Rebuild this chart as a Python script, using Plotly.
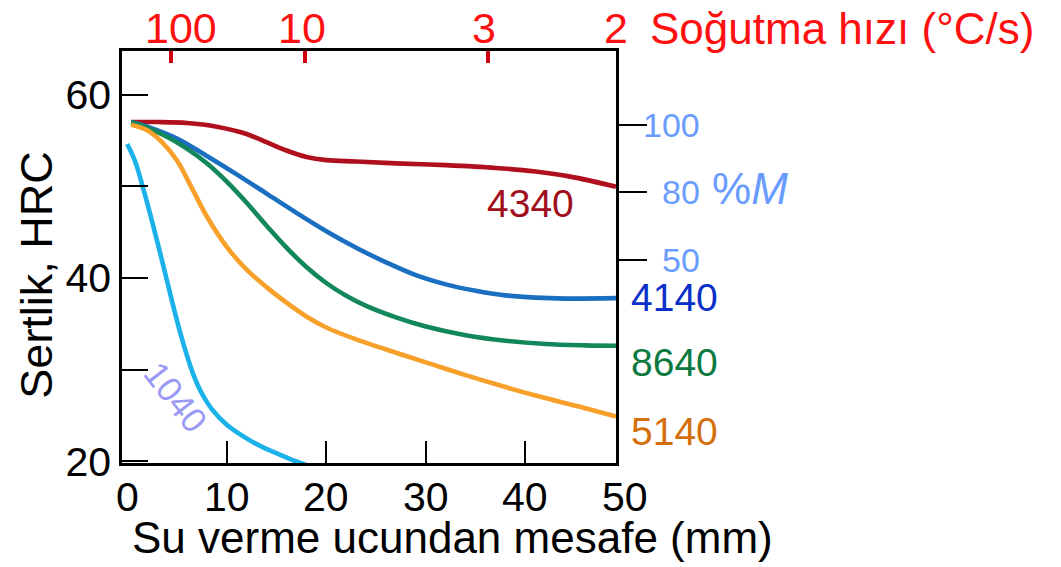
import plotly.graph_objects as go

# Jominy end-quench hardness curves (distance from quenched end, mm -> HRC)
dist_4340 = [0.4, 3, 6, 9, 12, 14, 16, 18, 20, 23, 27, 32, 37, 41, 44.5, 49.1]
hrc_4340 = [57.0, 57.0, 56.9, 56.5, 55.7, 54.8, 53.9, 53.2, 52.85, 52.7, 52.5, 52.3, 52.0, 51.6, 51.05, 49.95]

dist_4140 = [0.4, 2, 5, 8, 11, 14, 17, 20, 23, 26, 29, 32, 35, 38, 41, 44, 49.1]
hrc_4140 = [57.0, 56.5, 55.2, 53.3, 51.3, 49.2, 47.1, 45.1, 43.3, 41.7, 40.3, 39.3, 38.6, 38.1, 37.85, 37.75, 37.8]

dist_8640 = [0.4, 2, 4, 6, 8, 10, 12, 14, 16, 18, 20, 22, 24, 27, 30, 34, 38, 42, 46, 49.1]
hrc_8640 = [57.0, 56.4, 55.4, 54.1, 52.5, 50.5, 48.2, 45.7, 43.3, 41.2, 39.45, 38.05, 36.95, 35.7, 34.7, 33.75, 33.15, 32.8, 32.65, 32.6]

dist_5140 = [0.4, 2, 3.5, 5, 6.5, 8, 10, 12, 14, 16, 18, 20, 23, 26, 30, 34, 38, 42, 46, 49.1]
hrc_5140 = [56.7, 56.1, 54.8, 52.8, 49.8, 46.7, 43.4, 40.9, 39.0, 37.3, 35.8, 34.6, 33.3, 32.2, 30.8, 29.4, 28.1, 26.9, 25.8, 24.9]

dist_1040 = [0, 0.8, 1.6, 2.4, 3.2, 4.0, 4.8, 5.6, 6.6, 7.5, 8.5, 10, 11.7, 13.5, 15, 16.5, 18]
hrc_1040 = [54.6, 52.7, 49.8, 46.6, 43.2, 39.7, 36.2, 33.0, 29.6, 27.4, 25.7, 24.0, 22.7, 21.6, 20.9, 20.2, 19.6]

# bottom axis (mm) and left axis (HRC)
dist_ticks = [0, 10, 20, 30, 40, 50]
hrc_ticks = [20, 30, 40, 50, 60]
hrc_tick_text = ["20", "", "40", "", "60"]

# top axis: cooling rate (°C/s) at the matching distance
cooling_rates = ["100", "10", "3", "2"]
cooling_rate_mm = [4.4, 17.9, 36.2, 49.1]

# right axis: % martensite at the matching hardness
martensite_pct = ["100", "80", "50"]
martensite_hrc = [56.65, 49.4, 42.0]

series = [
    ("4340", dist_4340, hrc_4340, "#b0101e"),
    ("4140", dist_4140, hrc_4140, "#1a6fc0"),
    ("8640", dist_8640, hrc_8640, "#12885a"),
    ("5140", dist_5140, hrc_5140, "#f7a12b"),
    ("1040", dist_1040, hrc_1040, "#1ab2e8"),
]

FONT = "Liberation Sans, Arial, sans-serif"
X_RANGE = [-0.52, 49.1]
Y_RANGE = [19.82, 64.75]
TOP_LABEL_XSHIFT = [10, -3, -4, 0]


def x_paper(v):
    """Position of a distance value along the plot width (0..1)."""
    return (v - X_RANGE[0]) / (X_RANGE[1] - X_RANGE[0])


fig = go.Figure()
for name, xs, ys, col in series:
    fig.add_trace(go.Scatter(
        x=xs, y=ys, mode="lines", name=name,
        line=dict(color=col, width=4.6, shape="spline", smoothing=1.0),
        showlegend=False, hoverinfo="skip",
    ))

# invisible traces that carry the top and right axes
fig.add_trace(go.Scatter(x=[None], y=[None], xaxis="x2", yaxis="y", showlegend=False))
fig.add_trace(go.Scatter(x=[None], y=[None], xaxis="x", yaxis="y2", showlegend=False))

annotations = []

# bottom tick labels
for v in dist_ticks:
    annotations.append(dict(
        x=x_paper(v), y=-0.083, xref="paper", yref="paper", text=str(v),
        showarrow=False, xanchor="center", yanchor="middle",
        font=dict(family=FONT, size=41, color="black"),
    ))

# axis titles
annotations.append(dict(
    x=0.67, y=-0.182, xref="paper", yref="paper",
    text="Su verme ucundan mesafe (mm)", showarrow=False,
    xanchor="center", yanchor="middle",
    font=dict(family=FONT, size=44, color="black"),
))
annotations.append(dict(
    x=-0.173, y=0.456, xref="paper", yref="paper", text="Sertlik, HRC",
    showarrow=False, textangle=-90, xanchor="center", yanchor="middle",
    font=dict(family=FONT, size=45, color="black"),
))

# top cooling-rate labels
for lab, xv, dx in zip(cooling_rates, cooling_rate_mm, TOP_LABEL_XSHIFT):
    annotations.append(dict(
        x=x_paper(xv), y=1.0, xref="paper", yref="paper", text=lab,
        showarrow=False, xanchor="center", yanchor="middle",
        xshift=dx, yshift=23,
        font=dict(family=FONT, size=43, color="#ff1010"),
    ))
annotations.append(dict(
    x=1.064, y=1.0, xref="paper", yref="paper", text="Soğutma hızı (°C/s)",
    showarrow=False, xanchor="left", yanchor="middle", yshift=23,
    font=dict(family=FONT, size=44, color="#ff1010"),
))

# right martensite labels
for lab, yv in zip(martensite_pct, martensite_hrc):
    annotations.append(dict(
        x=1.174, y=yv, xref="paper", yref="y", text=lab, showarrow=False,
        xanchor="right", yanchor="middle",
        font=dict(family=FONT, size=34, color="#6a9cff"),
    ))
annotations.append(dict(
    x=1.19, y=49.8, xref="paper", yref="y", text="%<i>M</i>", showarrow=False,
    xanchor="left", yanchor="middle",
    font=dict(family=FONT, size=44, color="#6a9cff"),
))

# steel grade labels at the curve ends
end_labels = [
    ("4140", 37.9, "#0a30c8"),
    ("8640", 30.8, "#0c7a40"),
    ("5140", 23.3, "#d4700c"),
]
for text, yv, col in end_labels:
    annotations.append(dict(
        x=1.027, y=yv, xref="paper", yref="y", text=text, showarrow=False,
        xanchor="left", yanchor="middle",
        font=dict(family=FONT, size=39, color=col),
    ))
annotations.append(dict(
    x=40.5, y=48.15, xref="x", yref="y", text="4340", showarrow=False,
    xanchor="center", yanchor="middle",
    font=dict(family=FONT, size=39, color="#a0101c"),
))
annotations.append(dict(
    x=4.95, y=27.0, xref="x", yref="y", text="1040", showarrow=False,
    textangle=52, font=dict(family=FONT, size=35, color="#9a9af5"),
))

fig.update_layout(
    width=1061, height=567,
    margin=dict(l=122, r=445, t=51, b=104),
    paper_bgcolor="white", plot_bgcolor="white",
    font=dict(family=FONT, color="black"),
    xaxis=dict(
        range=X_RANGE, tickvals=dist_ticks[1:-1], showticklabels=False,
        ticks="inside", ticklen=22, tickwidth=2, tickcolor="black",
        showline=True, linecolor="black", linewidth=2.5,
        showgrid=False, zeroline=False,
    ),
    xaxis2=dict(
        range=X_RANGE, overlaying="x", side="top", anchor="y",
        tickvals=cooling_rate_mm[:3], showticklabels=False,
        ticks="inside", ticklen=12, tickwidth=4, tickcolor="#d00010",
        showline=True, linecolor="black", linewidth=2.5,
        showgrid=False, zeroline=False,
    ),
    yaxis=dict(
        range=Y_RANGE, tickvals=hrc_ticks, ticktext=hrc_tick_text,
        ticks="inside", ticklen=26, tickwidth=2, tickcolor="black",
        tickfont=dict(family=FONT, size=41, color="black"),
        showline=True, linecolor="black", linewidth=2.5,
        showgrid=False, zeroline=False,
    ),
    yaxis2=dict(
        range=Y_RANGE, overlaying="y", side="right", anchor="x",
        tickvals=martensite_hrc, showticklabels=False,
        ticks="outside", ticklen=28, tickwidth=2, tickcolor="black",
        showline=True, linecolor="black", linewidth=2.5,
        showgrid=False, zeroline=False,
    ),
    annotations=annotations,
)

fig.write_html("out.html")
